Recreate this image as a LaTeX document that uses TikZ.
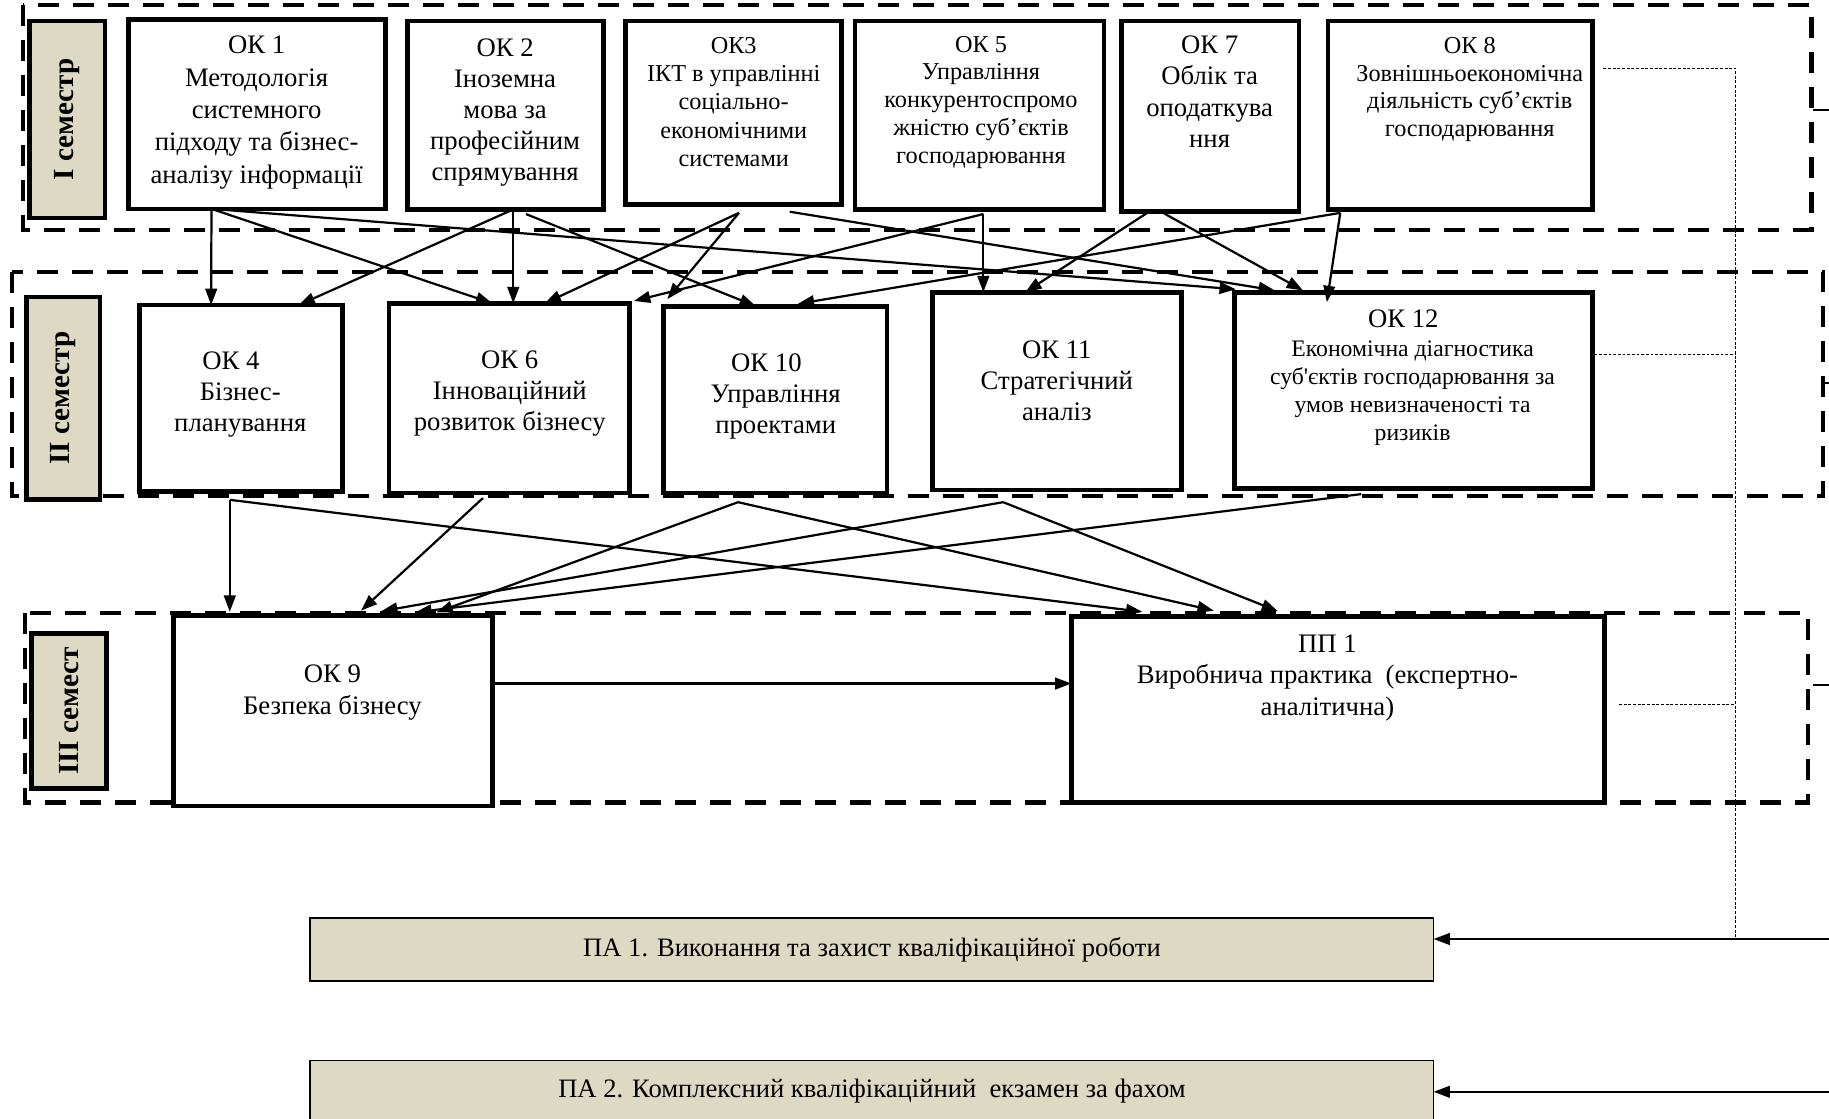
\documentclass[tikz,border=0pt]{standalone}
\usepackage{fontspec}
\setmainfont{Liberation Serif}
\newfontfamily\plainfont{Liberation Serif}
\usetikzlibrary{arrows.meta}
\definecolor{tanbg}{HTML}{DDD9C3}
\begin{document}
\begin{tikzpicture}[x=1pt,y=-1pt,
  box/.style={draw, fill=white, line width=4pt, inner sep=0pt, outer sep=0pt},
  lbox/.style={draw, fill=tanbg, line width=4pt, inner sep=0pt, outer sep=0pt, rotate=90, font=\bfseries\fontsize{25}{29}\selectfont},
  pabox/.style={draw, fill=tanbg, line width=1.4pt, inner sep=0pt, outer sep=0pt, font=\fontsize{22.8}{26}\selectfont},
  txt/.style={align=center, inner sep=0pt, outer sep=0pt, anchor=north},
  frame/.style={line width=3.6pt, dash pattern=on 18pt off 12pt},
  conn/.style={-{Triangle[length=14pt,width=10pt]}, line width=1.9pt},
  dotl/.style={line width=1.2pt, dash pattern=on 2.5pt off 1.5pt},
  stub/.style={line width=2pt}]
\useasboundingbox (0,0) rectangle (1568,959.3);

% semester frames
\draw[frame] (20,4.5) rectangle (1553,197);
\draw[frame] (10,233) rectangle (1563,425);
\draw[frame] (21.5,525.5) rectangle (1550,688);

% semester labels
\node[lbox, minimum width=169, minimum height=64.5] (s1) at (57.75,102.5) {І семестр};
\node[lbox, minimum width=173.5, minimum height=62.7] (s2) at (54.35,341.25) {ІІ семестр};
\node[lbox, minimum width=132.8, minimum height=64.2] (s3) at (59.3,609.4) {ІІІ семест};

% row 1
\node[box, minimum width=220.5, minimum height=162.5] (ok1) at (220.3,97.8) {};
\node[txt, font=\fontsize{22.9}{27.7}\selectfont] (ok1t) at (220,31) {ОК 1\\Методологія\\системного\\підходу та бізнес-\\аналізу інформації};
\node[box, minimum width=168, minimum height=161.5] (ok2) at (433.5,98.8) {};
\node[txt, font=\fontsize{22.9}{26.75}\selectfont] (ok2t) at (433,33) {ОК 2\\Іноземна\\мова за\\професійним\\спрямування};
\node[box, minimum width=185.5, minimum height=157.5] (ok3) at (628.75,96.75) {};
\node[txt, font=\fontsize{20.8}{24.25}\selectfont] (ok3t) at (629,32) {ОК3\\ІКТ в управлінні\\соціально-\\економічними\\системами};
\node[box, minimum width=213.5, minimum height=161.5] (ok5) at (839.75,98.75) {};
\node[txt, font=\fontsize{20.8}{23.75}\selectfont] (ok5t) at (841,31) {ОК 5\\Управління\\конкурентоспромо\\жністю суб’єктів\\господарювання};
\node[box, minimum width=152, minimum height=163.5] (ok7) at (1037.5,99.75) {};
\node[txt, font=\fontsize{22.9}{26.7}\selectfont] (ok7t) at (1037,31) {ОК 7\\Облік та\\оподаткува\\ння};
\node[box, minimum width=226.5, minimum height=161.5] (ok8) at (1251.75,98.75) {};
\node[txt, font=\fontsize{20.8}{23.7}\selectfont] (ok8t) at (1260,32) {ОК 8\\Зовнішньоекономічна\\діяльність суб’єктів\\господарювання};

% row 2
\node[box, minimum width=174, minimum height=160] (ok4) at (206.5,341.5) {};
\node[txt, font=\fontsize{22.9}{26.5}\selectfont] (ok4t) at (206,302) {ОК 4\hspace*{16pt}\\Бізнес-\\планування};
\node[box, minimum width=206, minimum height=162.5] (ok6) at (436.5,341.25) {};
\node[txt, font=\fontsize{22.9}{26.5}\selectfont] (ok6t) at (437,301) {ОК 6\\Інноваційний\\розвиток бізнесу};
\node[box, minimum width=191.5, minimum height=160] (ok10) at (664.75,342.5) {};
\node[txt, font=\fontsize{22.9}{26.5}\selectfont] (ok10t) at (665,303) {ОК 10\hspace*{16pt}\\Управління\\проектами};
\node[box, minimum width=213.5, minimum height=169.5] (ok11) at (906.25,335.25) {};
\node[txt, font=\fontsize{22.9}{26.5}\selectfont] (ok11t) at (906,292) {ОК 11\\Стратегічний\\аналіз};
\node[box, minimum width=306.5, minimum height=168] (ok12) at (1211.75,335) {};
\node[txt, font=\fontsize{22.9}{26.5}\selectfont] (ok12h) at (1203,266) {ОК 12};
\node[txt, font=\fontsize{20.3}{24.2}\selectfont] (ok12t) at (1211,292) {Економічна діагностика\\суб{\plainfont '}єктів господарювання за\\умов невизначеності та\\ризиків};

% row 3
\node[box, minimum width=273.5, minimum height=163.5] (ok9) at (285.25,609.25) {};
\node[txt, font=\fontsize{22.9}{27}\selectfont] (ok9t) at (285,570) {ОК 9\\Безпека бізнесу};
\node[box, minimum width=457, minimum height=159.5] (pp1) at (1147,608.25) {};
\node[txt, font=\fontsize{22.9}{27}\selectfont] (pp1t) at (1138,544) {ПП 1\\Виробнича практика\ \ (експертно-\\аналітична)};

% attestation boxes
\node[pabox, minimum width=963, minimum height=54] (pa1) at (747.5,814) {ПА 1. Виконання та захист кваліфікаційної роботи};
\node[pabox, minimum width=963, minimum height=53] (pa2) at (747.5,935.5) {ПА 2. Комплексний кваліфікаційний\ \ екзамен за фахом};

% arrows row 1 -> row 2
\draw[conn] ([xshift=-39pt]ok1.south) -- ([xshift=-25.5pt]ok4.north);
\draw[conn] ([xshift=-39pt]ok1.south) -- ([xshift=-14.5pt]ok6.north);
\draw[conn] ([xshift=-39pt]ok1.south) -- ([xshift=1pt,yshift=3pt]ok12.north west);
\draw[conn] ([xshift=6.5pt]ok2.south) -- ([xshift=49.5pt]ok4.north);
\draw[conn] ([xshift=6.5pt]ok2.south) -- ([xshift=3.5pt]ok6.north);
\draw[conn] ([xshift=17.5pt,yshift=-4pt]ok2.south) -- ([xshift=-16.75pt]ok10.north);
\draw[conn] ([xshift=4.75pt,yshift=-7pt]ok3.south) -- ([xshift=30.5pt]ok6.north);
\draw[conn] ([xshift=4.75pt,yshift=-7pt]ok3.south) -- ([xshift=-92.75pt,yshift=6pt]ok10.north);
\draw[conn] ([xshift=48.25pt,yshift=-6pt]ok3.south) -- ([xshift=34.5pt,yshift=2pt]ok12.north west);
\draw[conn] ([xshift=3.25pt,yshift=-4pt]ok5.south) -- ([xshift=4pt,yshift=2pt]ok6.north east);
\draw[conn] ([xshift=3.25pt,yshift=-4pt]ok5.south) -- ([xshift=-63.25pt]ok11.north);
\draw[conn] ([xshift=-52.5pt]ok7.south) -- ([xshift=-27.25pt]ok11.north);
\draw[conn] ([xshift=-39.5pt,yshift=-1.5pt]ok7.south) -- ([xshift=58.5pt,yshift=2pt]ok12.north west);
\draw[conn] ([xshift=-102.75pt,yshift=-3pt]ok8.south) -- ([xshift=79pt,yshift=-8pt]ok12.north west);
\draw[conn] ([xshift=-102.75pt,yshift=-3pt]ok8.south) -- ([xshift=19.25pt,yshift=2pt]ok10.north);

% arrows row 2 -> row 3
\draw[conn] ([xshift=-9.5pt,yshift=-7pt]ok4.south) -- ([xshift=-88.25pt,yshift=3pt]ok9.north);
\draw[conn] ([xshift=-9.5pt,yshift=-7pt]ok4.south) -- ([xshift=-167.6pt,yshift=4pt]pp1.north);
\draw[conn] ([xshift=-22.5pt,yshift=-4.5pt]ok6.south) -- ([xshift=24.25pt,yshift=4pt]ok9.north);
\draw[conn] ([xshift=-32pt,yshift=-8pt]ok10.south) -- ([xshift=89pt,yshift=2.5pt]ok9.north);
\draw[conn] ([xshift=-32pt,yshift=-8pt]ok10.south) -- ([xshift=-106.4pt,yshift=5pt]pp1.north);
\draw[conn] ([xshift=-46.25pt,yshift=-10.5pt]ok11.south) -- ([xshift=41.5pt,yshift=3.5pt]ok9.north);
\draw[conn] ([xshift=-46.25pt,yshift=-10.5pt]ok11.south) -- ([xshift=-51.4pt,yshift=4.5pt]pp1.north);
\draw[conn] ([xshift=-44.75pt,yshift=-4.6pt]ok12.south) -- ([xshift=70.75pt,yshift=2.5pt]ok9.north);
\draw[conn] ([yshift=23.25pt]ok9.east) -- ([yshift=22.25pt]pp1.west);

% dotted bus
\coordinate (bus1) at (1488,58.5);
\coordinate (bus2) at (1488,303.7);
\coordinate (bus3) at (1488,604);
\coordinate (bus4) at (1488,805);
\draw[dotl] ([xshift=9.5pt,yshift=40.25pt]ok8.east) -- (bus1) -- (bus4);
\draw[dotl] ([xshift=2pt,yshift=31.3pt]ok12.east) -- (bus2);
\draw[dotl] ([xshift=12.5pt,yshift=4.25pt]pp1.east) -- (bus3);

% right edge stubs and incoming arrows
\coordinate (e1a) at (1554.5,94.5); \coordinate (e1b) at (1568,94.5);
\coordinate (e2a) at (1563,328.6); \coordinate (e2b) at (1568,328.6);
\coordinate (e3a) at (1554,587.3); \coordinate (e3b) at (1568,587.3);
\draw[stub] (e1a) -- (e1b);
\draw[stub] (e2a) -- (e2b);
\draw[stub] (e3a) -- (e3b);
\coordinate (in1) at (1568,805);
\coordinate (in2) at (1568,936);
\draw[conn] (in1) -- ([yshift=9pt]pa1.east);
\draw[conn] (in2) -- ([yshift=-0.5pt]pa2.east);
\end{tikzpicture}
\end{document}
